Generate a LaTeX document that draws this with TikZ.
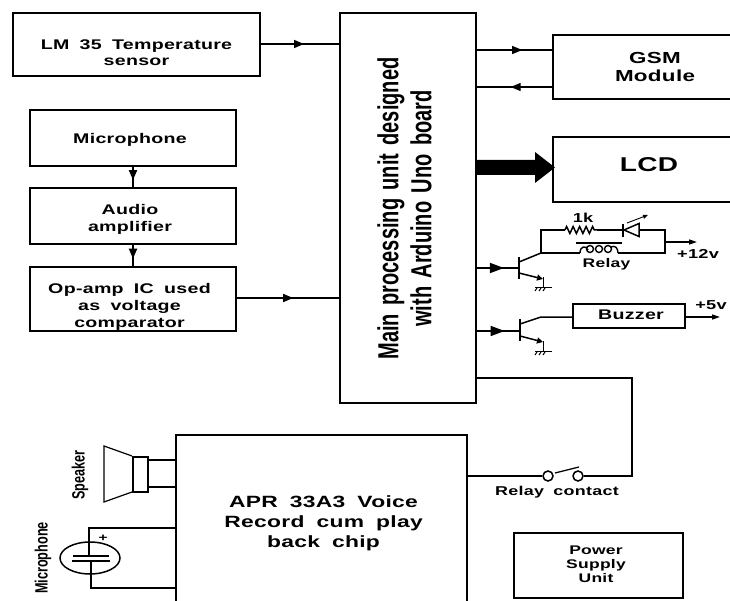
\documentclass[tikz,border=0pt]{standalone}
\usepackage{fontspec}
\usetikzlibrary{arrows.meta,decorations.markings,decorations.pathmorphing,calc}
\newfontfamily\wf[FakeStretch=1.4,LetterSpace=2,WordSpace=1.8]{Liberation Sans}
\newfontfamily\nf[FakeStretch=0.69,WordSpace=1.5]{Liberation Sans}
\newfontfamily\cf[FakeStretch=0.71]{Liberation Sans}
\newcommand{\fs}[1]{\fontsize{#1}{#1}\selectfont}
\tikzset{
  x=1pt,y=-1pt,
  wire/.style={line width=1.5pt,black},
  heavy wire/.style={line width=2pt,black},
  thin wire/.style={line width=1.2pt,black},
  box/.style={draw,line width=1.9pt,inner sep=0pt,anchor=center},
  txt/.style={inner sep=0pt,align=center,font=\wf\bfseries\fs{14}},
  lab/.style={inner sep=0pt,align=center,font=\wf\bfseries\fs{13}},
  rlab/.style={inner sep=0pt,align=center,rotate=90,font=\cf\bfseries\fs{17.8}},
  midtip/.style={postaction={decorate},decoration={markings,mark=at position #1 with {\arrow{Triangle[length=10pt,width=8pt]}}}},
  bigtip/.style={postaction={decorate},decoration={markings,mark=at position #1 with {\arrow{Triangle[length=14pt,width=10pt]}}}},
  endtip/.style={-{Triangle[length=8pt,width=5pt]}}
}
\begin{document}
\begin{tikzpicture}
\useasboundingbox (0,0) rectangle (730,601);
% boxes
\node[box,minimum width=247pt,minimum height=63pt] (lm) at (136.5,44.5) {};
\node[txt] (lmt) at (136.5,53) {LM 35 Temperature\\[2pt]sensor};
\node[box,minimum width=206pt,minimum height=56pt] (mic) at (133,138) {};
\node[txt] (mict0) at (130,140) {Microphone};
\node[box,minimum width=206pt,minimum height=56pt] (amp) at (133,216) {};
\node[txt] (ampt) at (130,219.5) {Audio\\[3pt]amplifier};
\node[box,minimum width=206pt,minimum height=64pt] (op) at (133,299) {};
\node[txt] (opt) at (129.5,307) {Op-amp IC used\\[3pt]as voltage\\[3pt]comparator};
\node[box,minimum width=136pt,minimum height=390pt] (main) at (408,208) {};
\node[rotate=90,inner sep=0pt,align=center,font=\nf\bfseries\fs{29}] (maintext) at (404.5,208.5) {Main processing unit designed\\[4pt]with Arduino Uno board};
\node[box,minimum width=180pt,minimum height=64pt] (gsm) at (643,67) {};
\node[txt,font=\wf\bfseries\fs{16}] (gsmt) at (655,67) {GSM\\[2pt]Module};
\node[box,minimum width=180pt,minimum height=65pt] (lcd) at (643,169.5) {};
\node[txt,font=\wf\bfseries\fs{20}] (lcdt) at (649,165) {LCD};
\node[box,minimum width=112pt,minimum height=24pt] (buz) at (629,316) {};
\node[txt] (buzt) at (631,315) {Buzzer};
\node[box,minimum width=291pt,minimum height=170pt] (apr) at (321.5,520) {};
\node[txt,font=\wf\bfseries\fs{16.3}] (aprtext) at (323.5,523) {APR 33A3 Voice\\[3.7pt]Record cum play\\[3.7pt]back chip};
\node[box,minimum width=169pt,minimum height=65pt] (psu) at (598.5,565.5) {};
\node[txt,font=\wf\bfseries\fs{12.5}] (psut) at (596,564) {Power\\[1.5pt]Supply\\[1.5pt]Unit};
% connectors
\coordinate (a1) at (340,44);
\coordinate (a2) at (260,44);
\draw[wire,midtip=0.55] (a2) -- (a1);
\draw[heavy wire,midtip=0.65] (mic.south) -- (amp.north);
\draw[heavy wire,midtip=0.65] (amp.south) -- (op.north);
\coordinate (o1) at (236,298); \coordinate (o2) at (340,298);
\draw[wire,midtip=0.55] (o1) -- (o2);
\coordinate (g1) at (476,50); \coordinate (g2) at (553,50);
\draw[thin wire,midtip=0.6] (g1) -- (g2);
\coordinate (g3) at (553,87); \coordinate (g4) at (476,87);
\draw[thin wire,midtip=0.55] (g3) -- (g4);
% thick arrow
\fill (476,160) -- (535,160) -- (535,152) -- (555,167.5) -- (535,183) -- (535,175) -- (476,175) -- cycle;
% transistor 1
\coordinate (t1i) at (476,268); \coordinate (t1b) at (519,268);
\draw[wire,bigtip=0.65] (t1i) -- (t1b);
\draw[line width=2.2pt] (519,257) -- (519,279);
\coordinate (t1c) at (541,253);
\draw[wire] (519,262) -- (t1c);
\draw[wire,-{Triangle[length=6pt,width=6pt]}] (519,273) -- (543,279);
\draw[wire] (543.5,277) -- (543.5,287);
\draw[line width=1.6pt] (535,287.5) -- (552,287.5);
\foreach \x in {537,541,545} \draw[line width=1pt] (\x,288) -- (\x-2,291);
% relay
\coordinate (r1) at (541,230); \coordinate (r2) at (665,230); \coordinate (r3) at (665,253);
\coordinate (rs) at (565,230); \coordinate (re) at (597,230);
\draw[wire] (t1c) -- (r1) -- (rs);
\draw[wire,decorate,decoration={zigzag,segment length=6.5pt,amplitude=3.5pt}] (rs) -- (re);
\draw[wire] (re) -- (622,230);
\draw[line width=1.9pt] (623,224) -- (623,237);
\draw[line width=1.5pt] (624,230) -- (639,223.5) -- (639,236.5) -- cycle;
\draw[line width=.9pt,-{Triangle[length=5pt,width=4pt]}] (627,223) -- (648,215);
\draw[wire] (639,230) -- (r2) -- (r3) -- (618,253);
\draw[wire] (t1c) -- (580,253);
\draw[line width=1.7pt] (576,243) -- (622,243);
\draw[line width=1.4pt] (580,253) .. controls (580,246) and (586,245) .. (588,250)
  (590,249) circle[radius=3.5] (599,249) circle[radius=3.5] (608,249) circle[radius=3.5]
  (611,247) .. controls (615,245) and (618,248) .. (618,253);
\coordinate (rr) at (665,242); \coordinate (rv) at (697,242);
\draw[wire,endtip] (rr) -- (rv);
\node[lab] (v12) at (698,254) {+12v};
\node[lab] (k1) at (583,218) {1k};
\node[lab,font=\wf\bfseries\fs{12.5}] (rel) at (606.5,264) {Relay};
% transistor 2
\coordinate (t2i) at (476,331); \coordinate (t2b) at (520,331);
\draw[wire,bigtip=0.65] (t2i) -- (t2b);
\draw[line width=2.2pt] (520,319) -- (520,341);
\coordinate (t2c) at (541,317);
\draw[wire] (520,324) -- (t2c) -- (buz.west |- t2c);
\draw[wire,-{Triangle[length=6pt,width=6pt]}] (520,336) -- (543,342);
\draw[wire] (543.5,341) -- (543.5,351);
\draw[line width=1.6pt] (535,351.5) -- (552,351.5);
\foreach \x in {537,541,545} \draw[line width=1pt] (\x,352) -- (\x-2,355);
\coordinate (bz) at (720,317);
\draw[wire,endtip] (buz.east |- bz) -- (bz);
\node[lab] (v5) at (711,305) {+5v};
% relay contact path
\coordinate (c1) at (476,378); \coordinate (c2) at (632,378); \coordinate (c3) at (632,476);
\node[draw,circle,line width=1.5pt,minimum size=10pt,inner sep=0pt] (sw2) at (578,476) {};
\node[draw,circle,line width=1.5pt,minimum size=10pt,inner sep=0pt] (sw1) at (548,476) {};
\draw[wire] (c1) -- (c2) -- (c3) -- (sw2.east);
\coordinate (c4) at (467,476);
\draw[wire] (c4) -- (sw1.west);
\draw[line width=1.3pt] (555,473) -- (579,467);
\node[lab,font=\wf\bfseries\fs{12.8}] (rc) at (557,492) {Relay contact};
% speaker
\draw[line width=1.2pt] (133,457) rectangle (148,492);
\draw[line width=2pt] (133,457) -- (133,492);
\draw[line width=1.2pt] (132,456) -- (104,446) -- (104,502) -- (132,492);
\coordinate (sp1) at (148,460); \coordinate (sp2) at (176,460);
\coordinate (sp3) at (148,487); \coordinate (sp4) at (176,487);
\draw[thin wire] (sp1) -- (sp2) (sp3) -- (sp4);
\node[rlab] (spk) at (80,475) {Speaker};
% microphone
\coordinate (m1) at (176,528); \coordinate (m2) at (89,528); \coordinate (m3) at (89,556);
\coordinate (m4) at (91,561); \coordinate (m5) at (91,588); \coordinate (m6) at (176,588);
\draw[wire] (m1) -- (m2) -- (m3);
\draw[wire] (m4) -- (m5) -- (m6);
\draw[wire] (90,558) ellipse[x radius=30,y radius=16];
\draw[wire] (73,556) -- (109,556) (72,561) -- (110,561);
\node[lab,font=\wf\bfseries\fs{11}] (plus) at (103,538) {+};
\node[rlab] (mict) at (43,558) {Microphone};
\end{tikzpicture}
\end{document}
